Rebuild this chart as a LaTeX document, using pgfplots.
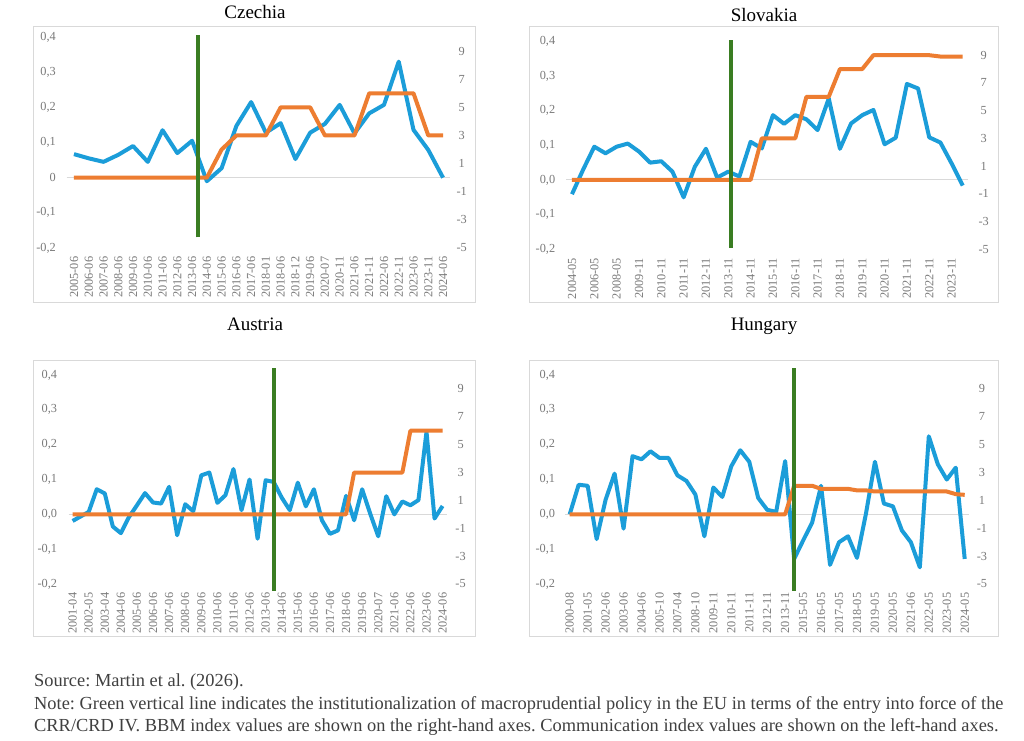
\documentclass[border=0pt]{standalone}
\usepackage{fontspec}
\setmainfont{Liberation Serif}
\usepackage{pgfplots}
\pgfplotsset{compat=1.18}
\usepackage{pgfplotstable}

\definecolor{cblue}{HTML}{1B9DD9}
\definecolor{corange}{HTML}{ED7D31}
\definecolor{cgreen}{HTML}{3A7D22}
\definecolor{tickgray}{HTML}{7A7A7A}
\definecolor{notegray}{HTML}{404040}
\definecolor{boxgray}{HTML}{D9D9D9}

\pgfplotstableread{
comm bbm
0.067 0
0.055 0
0.045 0
0.065 0
0.090 0
0.045 0
0.135 0
0.070 0
0.105 0
-0.010 0
0.027 2
0.147 3
0.215 3
0.128 3
0.155 5
0.053 5
0.128 5
0.153 3
0.207 3
0.126 3
0.183 6
0.207 6
0.330 6
0.136 6
0.079 3
0.000 3
}\tblCZ

\pgfplotstableread{
comm bbm
-0.041 0
0.030 0
0.096 0
0.077 0
0.096 0
0.105 0
0.082 0
0.050 0
0.054 0
0.024 0
-0.050 0
0.038 0
0.090 0
0.007 0
0.024 0
0.010 0
0.110 0
0.091 3
0.187 3
0.162 3
0.187 3
0.175 6
0.144 6
0.235 6
0.090 8
0.163 8
0.187 8
0.202 9
0.103 9
0.122 9
0.277 9
0.264 9
0.123 9
0.108 8.9
0.048 8.9
-0.016 8.9
}\tblSK

\pgfplotstableread{
comm bbm
-0.019 0
-0.006 0
0.007 0
0.072 0
0.060 0
-0.035 0
-0.054 0
-0.008 0
0.026 0
0.061 0
0.034 0
0.031 0
0.079 0
-0.060 0
0.029 0
0.009 0
0.112 0
0.120 0
0.033 0
0.055 0
0.130 0
0.012 0
0.100 0
-0.070 0
0.098 0
0.093 0
0.048 0
0.012 0
0.091 0
0.023 0
0.072 0
-0.017 0
-0.056 0
-0.046 0
0.053 0
-0.017 3
0.072 3
0.002 3
-0.063 3
0.052 3
0.000 3
0.037 3
0.026 6
0.041 6
0.237 6
-0.012 6
0.024 6
}\tblAT

\pgfplotstableread{
comm bbm
0.000 0
0.085 0
0.082 0
-0.071 0
0.042 0
0.117 0
-0.041 0
0.167 0
0.158 0
0.181 0
0.162 0
0.162 0
0.112 0
0.096 0
0.057 0
-0.063 0
0.077 0
0.050 0
0.138 0
0.184 0
0.151 0
0.047 0
0.013 0
0.007 0
0.153 0
-0.128 2.05
-0.075 2.05
-0.024 2.05
0.082 1.83
-0.145 1.83
-0.080 1.83
-0.063 1.83
-0.125 1.72
0.002 1.72
0.151 1.64
0.031 1.64
0.023 1.64
-0.046 1.64
-0.080 1.64
-0.152 1.64
0.224 1.64
0.144 1.64
0.100 1.64
0.134 1.45
-0.128 1.40
}\tblHU

\pgfplotsset{
  base/.style={scale only axis, clip=false,
    axis line style={draw=none}, major tick length=0pt, tick style={draw=none},
    ticklabel style={font=\fontsize{12.3}{14}\selectfont, text=tickgray, inner sep=0pt}},
  leftax/.style={base, ymin=-0.2, ymax=0.4,
    ytick={-0.2,-0.1,0,0.1,0.2,0.3,0.4},
    extra y ticks={0}, extra y tick labels={},
    major grid style={boxgray, line width=1pt},
    extra y tick style={grid=major},
    xticklabel style={rotate=90, anchor=east}, xticklabel shift=8.5pt},
  rightax/.style={base, axis y line*=right, axis x line=none,
    ymin=-5, ymax=10, ytick={-5,-3,-1,1,3,5,7,9},
    yticklabels={-5,-3,-1,1,3,5,7,9},
    yticklabel style={anchor=center}},
  blueline/.style={cblue, line width=4pt, line join=round, no marks},
  orangeline/.style={corange, line width=4pt, line join=round, no marks},
  greenline/.style={cgreen, line width=4pt, no marks},
}

\begin{document}
\frenchspacing
\begin{tikzpicture}
\path[use as bounding box] (0pt,0pt) rectangle (1024pt,-740pt);
\fill[white] (0pt,0pt) rectangle (1024pt,-740pt);

% panel frames
\draw[boxgray, line width=1pt] (33.3pt,-26pt) rectangle (475pt,-302.7pt);
\draw[boxgray, line width=1pt] (529.3pt,-26pt) rectangle (998.7pt,-302.7pt);
\draw[boxgray, line width=1pt] (33.3pt,-360.7pt) rectangle (475pt,-636.7pt);
\draw[boxgray, line width=1pt] (529.3pt,-360.7pt) rectangle (998.7pt,-636.7pt);

% ---------------- Czechia ----------------
\begin{axis}[leftax, at={(66.6pt,-248pt)}, width=383.8pt, height=211pt,
  xmin=-0.5, xmax=25.5, xtick={0,...,25},
  xticklabels={2005-06,2006-06,2007-06,2008-06,2009-06,2010-06,2011-06,2012-06,2013-06,2014-06,2015-06,2016-06,2017-06,2018-01,2018-06,2018-12,2019-06,2020-07,2020-11,2021-06,2021-11,2022-06,2022-11,2023-06,2023-11,2024-06},
  yticklabels={{-0,2},{-0,1},0,{0,1},{0,2},{0,3},{0,4}},
  yticklabel shift=10.6pt]
\addplot[blueline] table[x expr=\coordindex, y=comm] {\tblCZ};
\end{axis}
\begin{axis}[rightax, at={(66.6pt,-248pt)}, width=383.8pt, height=211pt,
  xmin=-0.5, xmax=25.5, yticklabel shift=11.3pt]
\addplot[orangeline] table[x expr=\coordindex, y=bbm] {\tblCZ};
\addplot[greenline] coordinates {(8.4,-4.25) (8.4,10.15)};
\end{axis}

% ---------------- Slovakia ----------------
\begin{axis}[leftax, at={(566.4pt,-249.3pt)}, width=401.9pt, height=208pt,
  xmin=-0.5, xmax=35.5, xtick={0,2,...,34},
  xticklabels={2004-05,2006-05,2008-05,2009-11,2010-11,2011-11,2012-11,2013-11,2014-11,2015-11,2016-11,2017-11,2018-11,2019-11,2020-11,2021-11,2022-11,2023-11},
  yticklabels={{-0,2},{-0,1},{0,0},{0,1},{0,2},{0,3},{0,4}},
  yticklabel shift=11pt]
\addplot[blueline] table[x expr=\coordindex, y=comm] {\tblSK};
\end{axis}
\begin{axis}[rightax, at={(566.4pt,-249.3pt)}, width=401.9pt, height=208pt,
  xmin=-0.5, xmax=35.5, yticklabel shift=15.4pt]
\addplot[orangeline] table[x expr=\coordindex, y=bbm] {\tblSK};
\addplot[greenline] coordinates {(14.25,-4.9) (14.25,10.1)};
\end{axis}

% ---------------- Austria ----------------
\begin{axis}[leftax, at={(68.6pt,-584pt)}, width=378pt, height=209pt,
  xmin=-0.5, xmax=46.5, xtick={0,2,...,46},
  xticklabels={2001-04,2002-05,2003-04,2004-06,2005-06,2006-06,2007-06,2008-06,2009-06,2010-06,2011-06,2012-06,2013-06,2014-06,2015-06,2016-06,2017-06,2018-06,2019-06,2020-07,2021-06,2022-06,2023-06,2024-06},
  yticklabels={{-0,2},{-0,1},{0,0},{0,1},{0,2},{0,3},{0,4}},
  yticklabel shift=11.3pt]
\addplot[blueline] table[x expr=\coordindex, y=comm] {\tblAT};
\end{axis}
\begin{axis}[rightax, at={(68.6pt,-584pt)}, width=378pt, height=209pt,
  xmin=-0.5, xmax=46.5, yticklabel shift=14pt]
\addplot[orangeline] table[x expr=\coordindex, y=bbm] {\tblAT};
\addplot[greenline] coordinates {(25,-5.5) (25,10.5)};
\end{axis}

% ---------------- Hungary ----------------
\begin{axis}[leftax, at={(565.2pt,-584pt)}, width=404pt, height=209pt,
  xmin=-0.5, xmax=44.5, xtick={0,2,...,44},
  xticklabels={2000-08,2001-05,2002-06,2003-06,2004-06,2005-10,2007-04,2008-10,2009-11,2010-11,2011-11,2012-11,2013-11,2015-05,2016-05,2017-05,2018-05,2019-05,2020-05,2021-06,2022-05,2023-05,2024-05},
  yticklabels={{-0,2},{-0,1},{0,0},{0,1},{0,2},{0,3},{0,4}},
  yticklabel shift=9.9pt]
\addplot[blueline] table[x expr=\coordindex, y=comm] {\tblHU};
\end{axis}
\begin{axis}[rightax, at={(565.2pt,-584pt)}, width=404pt, height=209pt,
  xmin=-0.5, xmax=44.5, yticklabel shift=12.8pt]
\addplot[orangeline] table[x expr=\coordindex, y=bbm] {\tblHU};
\addplot[greenline] coordinates {(24.95,-5.5) (24.95,10.5)};
\end{axis}

% titles
\node[anchor=base, font=\fontsize{19}{21}\selectfont, inner sep=0pt] at (255pt,-18.3pt) {Czechia};
\node[anchor=base, font=\fontsize{19}{21}\selectfont, inner sep=0pt] at (764pt,-21.7pt) {Slovakia};
\node[anchor=base, font=\fontsize{19}{21}\selectfont, inner sep=0pt] at (255pt,-330pt) {Austria};
\node[anchor=base, font=\fontsize{19}{21}\selectfont, inner sep=0pt] at (764pt,-330pt) {Hungary};

% notes
\begin{scope}[every node/.style={anchor=base west, inner sep=0pt, text=notegray, font=\fontsize{18.4}{20}\selectfont}]
\node at (34pt,-686.5pt) {Source: Martin et al. (2026).};
\node at (34pt,-709.5pt) {Note: Green vertical line indicates the institutionalization of macroprudential policy in the EU in terms of the entry into force of the};
\node at (34pt,-731pt) {CRR/CRD IV. BBM index values are shown on the right-hand axes. Communication index values are shown on the left-hand axes.};
\end{scope}
\end{tikzpicture}
\end{document}
